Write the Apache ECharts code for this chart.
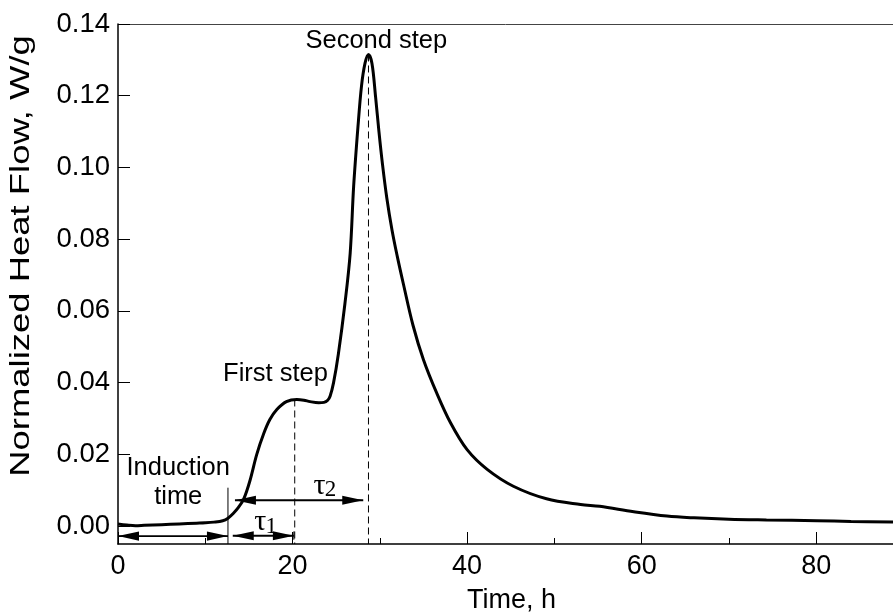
<!DOCTYPE html>
<html>
<head>
<meta charset="utf-8">
<script src="https://cdn.jsdelivr.net/npm/echarts@6/dist/echarts.min.js"></script>
<style>
  html, body { margin: 0; padding: 0; background: #fff; }
  #chart { width: 893px; height: 612px; }
</style>
</head>
<body>
<div id="chart"></div>
<script>
// Isothermal calorimetry trace: normalized heat flow (W/g) against time (h)
const timeH = [
  0, 1, 2, 3, 5, 7, 9, 10, 11, 12, 12.6, 13.2, 13.8, 14.4, 15.1, 15.9, 16.7, 17.4,
  18.2, 19.3, 20.5, 21.3, 22.0, 23.0, 23.6, 24.0, 24.3, 24.7, 25.25, 26.0, 26.6,
  27.0, 27.5, 27.9, 28.3, 28.7, 29.1, 29.5, 29.9, 30.3, 30.8, 31.4, 32.0, 32.7,
  33.8, 35.0, 36.5, 38.1, 40.0, 42.3, 45.3, 49.1, 53.0, 55.2, 59.1, 62.9, 66, 70,
  74.3, 80.1, 84, 88.8
];
const heatFlow = [
  0.0006, 0.0003, 0.0001, 0.0002, 0.0004, 0.0006, 0.0008, 0.0009, 0.0011, 0.0015,
  0.0022, 0.0035, 0.0052, 0.0075, 0.0125, 0.0200, 0.0258, 0.0297, 0.0325, 0.0347,
  0.0353, 0.0351, 0.0347, 0.0344, 0.0345, 0.0350, 0.0362, 0.0400, 0.0480, 0.0620,
  0.0760, 0.0947, 0.1115, 0.1227, 0.1290, 0.1315, 0.1290, 0.1200, 0.1100, 0.1010,
  0.0915, 0.0825, 0.0752, 0.0675, 0.0560, 0.0464, 0.0372, 0.0288, 0.0213, 0.0158,
  0.0111, 0.0076, 0.0060, 0.0055, 0.0040, 0.0028, 0.0023, 0.0019, 0.0017, 0.0015,
  0.0013, 0.0011
];

// Axis ticks
const yTickValues = [0, 0.02, 0.04, 0.06, 0.08, 0.10, 0.12, 0.14];
const xMin = 0, xMax = 88.8, xStep = 20;
const yMin = -0.005, yMax = 0.14;

// Stage markers (time in h, heat flow in W/g)
const stageArrows = [            // [start, end, level]
  [0, 12.6, -0.0028],            // induction time
  [13.15, 20.15, -0.0027],       // tau 1
  [13.4, 28.1, 0.0072]           // tau 2
];
const inductionEnd = [[12.6, 0.0107]];          // [time, top]
const stepMarkers = [[20.25, 0.0353], [28.7, 0.1315]]; // dashed drops from the two maxima
const tau1Stop = [[20.15, -0.0015]];
const stageLabels = [           // [time, level, text]
  [6.9, 0.0163, 'Induction'],
  [6.9, 0.0082, 'time'],
  [18.05, 0.0423, 'First step'],
  [29.6, 0.1352, 'Second step']
];
const tauLabels = [             // [time, level, subscript]
  [16.3, 0.0010, '1'],
  [23.1, 0.0111, '2']
];
const yAxisTitle = 'Normalized Heat Flow, W/g';

const SANS = '"Liberation Sans", Arial, sans-serif';
const SERIF = '"Liberation Serif", "Times New Roman", serif';

const chart = echarts.init(document.getElementById('chart'), null, { renderer: 'canvas' });

function arrowHead(tipX, tipY, dir) {
  const len = 21, half = 4.6;
  return {
    type: 'polygon',
    shape: { points: [[tipX, tipY], [tipX + dir * len, tipY - half], [tipX + dir * len, tipY + half]] },
    style: { fill: '#000' }
  };
}

const option = {
  animation: false,
  backgroundColor: '#fff',
  grid: { left: 118, right: 0, top: 24, bottom: 68, containLabel: false, outerBoundsMode: 'none' },
  // vertical title, drawn a little elongated along its reading direction
  graphic: [{
    type: 'text', x: 22, y: 256, rotation: Math.PI / 2, scaleX: 1.35,
    style: { text: yAxisTitle, fontFamily: SANS, fontSize: 27, fill: '#000', align: 'center', verticalAlign: 'middle' }
  }],
  xAxis: [
    {
      type: 'value', min: xMin, max: xMax, interval: xStep,
      name: 'Time, h', nameLocation: 'middle', nameGap: 43,
      nameTextStyle: { fontFamily: SANS, fontSize: 27, color: '#000', padding: [0, 0, 0, 12] },
      axisLine: { show: true, onZero: false, lineStyle: { color: '#000', width: 1.5 } },
      axisTick: { show: true, inside: true, length: 12, lineStyle: { color: '#000', width: 1 } },
      minorTick: { show: true, splitNumber: 2, length: 6, lineStyle: { color: '#000', width: 1 } },
      axisLabel: { fontFamily: SANS, fontSize: 27, color: '#000', margin: 9, showMaxLabel: false },
      splitLine: { show: false }
    },
    {
      type: 'value', min: xMin, max: xMax, position: 'top',
      axisLine: { show: true, onZero: false, lineStyle: { color: '#444', width: 1 } },
      axisTick: { show: false }, axisLabel: { show: false }, splitLine: { show: false }
    }
  ],
  yAxis: {
    type: 'value', min: yMin, max: yMax,
    axisLine: { show: true, onZero: false, lineStyle: { color: '#000', width: 1.5 } },
    axisTick: { show: true, inside: true, length: 12, customValues: yTickValues, lineStyle: { color: '#000', width: 1 } },
    axisLabel: {
      fontFamily: SANS, fontSize: 27.5, color: '#000', margin: 8,
      customValues: yTickValues, formatter: v => v.toFixed(2)
    },
    splitLine: { show: false }
  },
  series: [
    {
      type: 'line',
      data: timeH.map((t, i) => [t, heatFlow[i]]),
      showSymbol: false, smooth: 0.35,
      lineStyle: { color: '#000', width: 3 },
      z: 5
    },
    {
      // double-headed arrows marking induction time, tau1 and tau2
      type: 'custom', clip: false, z: 4,
      data: stageArrows,
      renderItem: (params, api) => {
        const a = api.coord([api.value(0), api.value(2)]);
        const b = api.coord([api.value(1), api.value(2)]);
        return {
          type: 'group',
          children: [
            { type: 'line', shape: { x1: a[0], y1: a[1], x2: b[0], y2: b[1] }, style: { stroke: '#000', lineWidth: 1.8 } },
            arrowHead(a[0], a[1], 1),
            arrowHead(b[0], b[1], -1)
          ]
        };
      }
    },
    {
      // end of the induction period
      type: 'custom', clip: false, z: 4,
      data: inductionEnd,
      renderItem: (params, api) => {
        const top = api.coord([api.value(0), api.value(1)]);
        const bot = api.coord([api.value(0), yMin]);
        return { type: 'line', shape: { x1: top[0], y1: top[1], x2: bot[0], y2: bot[1] }, style: { stroke: '#000', lineWidth: 1 } };
      }
    },
    {
      // short stop bar at the end of tau1
      type: 'custom', clip: false, z: 4,
      data: tau1Stop,
      renderItem: (params, api) => {
        const top = api.coord([api.value(0), api.value(1)]);
        const bot = api.coord([api.value(0), -0.0038]);
        return { type: 'line', shape: { x1: top[0], y1: top[1], x2: bot[0], y2: bot[1] }, style: { stroke: '#000', lineWidth: 1 } };
      }
    },
    {
      // dashed drop lines from the first and second maxima
      type: 'custom', clip: false, z: 3,
      data: stepMarkers,
      renderItem: (params, api) => {
        const top = api.coord([api.value(0), api.value(1)]);
        const bot = api.coord([api.value(0), yMin]);
        return {
          type: 'line', shape: { x1: top[0], y1: top[1], x2: bot[0], y2: bot[1] },
          style: { stroke: '#000', lineWidth: 1, lineDash: [7, 4] }
        };
      }
    },
    {
      type: 'custom', clip: false, z: 6,
      data: stageLabels,
      renderItem: (params, api) => {
        const p = api.coord([api.value(0), api.value(1)]);
        return {
          type: 'text', x: p[0], y: p[1],
          style: { text: stageLabels[params.dataIndex][2], fontFamily: SANS, fontSize: 25.5, fill: '#000', align: 'center', verticalAlign: 'middle' }
        };
      }
    },
    {
      type: 'custom', clip: false, z: 6,
      data: tauLabels,
      renderItem: (params, api) => {
        const p = api.coord([api.value(0), api.value(1)]);
        return {
          type: 'group',
          children: [
            { type: 'text', x: p[0], y: p[1], style: { text: '\u03c4', fontFamily: SERIF, fontSize: 30, fill: '#000', align: 'center', verticalAlign: 'middle' } },
            { type: 'text', x: p[0] + 11, y: p[1] + 4, style: { text: tauLabels[params.dataIndex][2], fontFamily: SERIF, fontSize: 23, fill: '#000', align: 'center', verticalAlign: 'middle' } }
          ]
        };
      }
    }
  ]
};

chart.setOption(option);
</script>
</body>
</html>
